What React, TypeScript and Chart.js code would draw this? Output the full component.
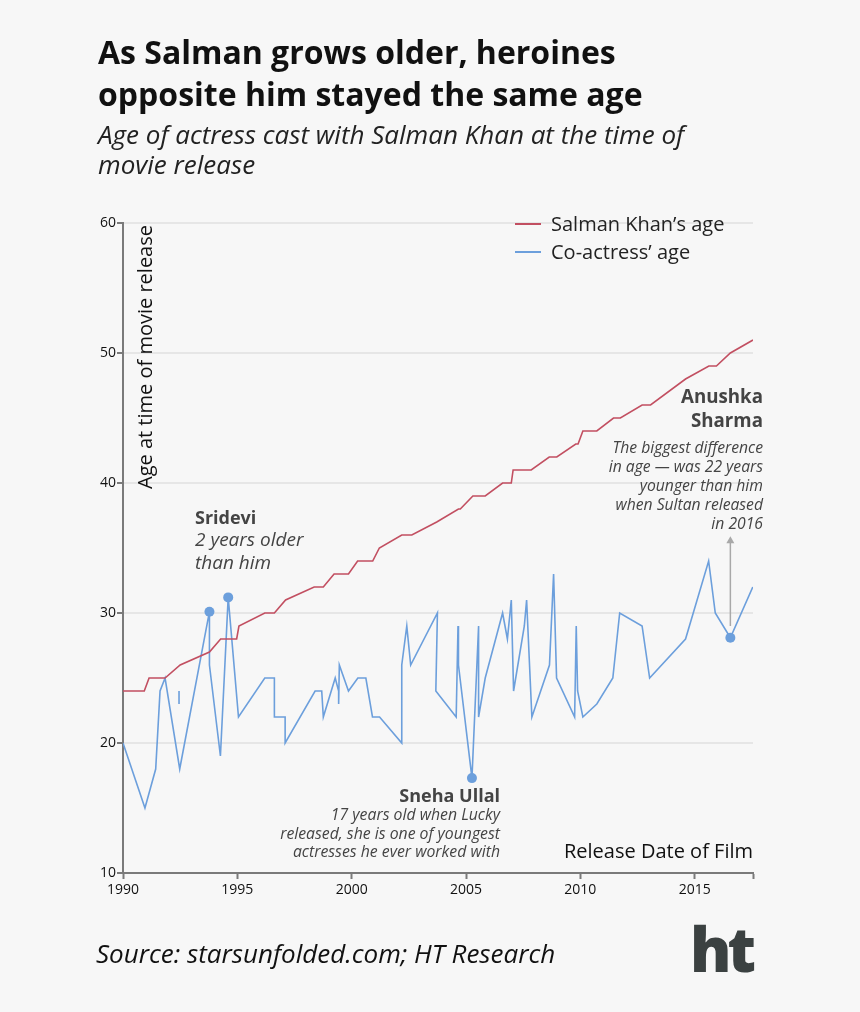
import React, { useEffect, useRef } from "react";
import { Chart, registerables } from "chart.js";

Chart.register(...registerables);

// Release dates (decimal years) and ages
const salmanDates = [1990, 1990.93, 1991.14, 1991.84, 1992.5, 1993.78, 1994.27, 1994.97, 1995.07, 1996.2, 1996.62, 1997.11, 1998.36, 1998.76, 1999.23, 1999.86, 2000.26, 2000.92, 2001.21, 2002.19, 2002.63, 2003.72, 2004.67, 2004.75, 2005.3, 2005.84, 2006.6, 2006.98, 2007.06, 2007.85, 2008.64, 2008.97, 2009.8, 2009.9, 2010.11, 2010.72, 2011.45, 2011.75, 2012.7, 2013.07, 2014.6, 2015.62, 2015.95, 2016.56, 2017.55];
const salmanAges = [24, 24, 25, 25, 26, 27, 28, 28, 29, 30, 30, 31, 32, 32, 33, 33, 34, 34, 35, 36, 36, 37, 38, 38, 39, 39, 40, 40, 41, 41, 42, 42, 43, 43, 44, 44, 45, 45, 46, 46, 48, 49, 49, 50, 51];

const actressDates = [1990, 1990.96, 1991.43, 1991.62, 1991.84, 1992.48, 1993.78, 1993.78, 1994.26, 1994.6, 1995.05, 1996.2, 1996.62, 1996.62, 1997.09, 1997.09, 1998.4, 1998.69, 1998.76, 1999.28, 1999.43, 1999.43, 1999.46, 1999.86, 2000.27, 2000.62, 2000.91, 2001.22, 2002.19, 2002.19, 2002.41, 2002.58, 2003.75, 2003.68, 2004.57, 2004.65, 2004.67, 2005.26, 2005.55, 2005.55, 2005.84, 2006.6, 2006.81, 2006.98, 2007.08, 2007.55, 2007.65, 2007.88, 2008.65, 2008.83, 2008.96, 2009.75, 2009.82, 2009.88, 2010.11, 2010.72, 2011.42, 2011.72, 2012.7, 2013.03, 2014.6, 2015.61, 2015.9, 2016.56, 2017.54];
const actressAges = [20, 15, 18, 24, 25, 18, 30.1, 26, 19, 31.2, 22, 25, 25, 22, 22, 20, 24, 24, 22, 25, 24, 23, 26, 24, 25, 25, 22, 22, 20, 26, 29, 26, 30, 24, 22, 29, 26, 17.3, 29, 22, 25, 30, 28, 31, 24, 29, 31, 22, 26, 33, 25, 22, 29, 24, 22, 23, 25, 30, 29, 25, 28, 34, 30, 28.1, 32];
const highlightDates = [1993.78, 1994.6, 2005.26, 2016.56];

const spurDates = [1992.45, 1992.45];
const spurAges = [24, 23];

const xTicks = [1990, 1995, 2000, 2005, 2010, 2015];
const yTicks = [10, 20, 30, 40, 50, 60];

const RED = "#c24f61";
const BLUE = "#6c9fdc";
const FONT = "'Open Sans', 'DejaVu Sans', sans-serif";

const arrowPlugin = {
  id: "arrowAnno",
  afterDatasetsDraw(chart: any) {
    const { ctx, scales } = chart;
    const x = scales.x.getPixelForValue(2016.56);
    const y0 = scales.y.getPixelForValue(29.0);
    const y1 = scales.y.getPixelForValue(35.9);
    ctx.save();
    ctx.strokeStyle = "#a9a9a9";
    ctx.fillStyle = "#a9a9a9";
    ctx.lineWidth = 1.5;
    ctx.beginPath();
    ctx.moveTo(x, y0);
    ctx.lineTo(x, y1 + 5);
    ctx.stroke();
    ctx.beginPath();
    ctx.moveTo(x, y1);
    ctx.lineTo(x - 4, y1 + 7);
    ctx.lineTo(x + 4, y1 + 7);
    ctx.closePath();
    ctx.fill();
    ctx.restore();
  },
};

export default function App() {
  const ref = useRef<HTMLCanvasElement | null>(null);

  useEffect(() => {
    document.body.style.margin = "0";
    document.body.style.background = "#f7f7f7";
    const canvas = ref.current;
    if (!canvas) return;
    const salman = salmanDates.map((d, i) => ({ x: d, y: salmanAges[i] }));
    const actress = actressDates.map((d, i) => ({ x: d, y: actressAges[i] }));
    const spur = spurDates.map((d, i) => ({ x: d, y: spurAges[i] }));
    const radii = actressDates.map((d, i) =>
      highlightDates.includes(d) && (i === 0 || actressAges[i] !== 26) ? 5 : 0
    );
    const chart = new Chart(canvas, {
      type: "line",
      data: {
        datasets: [
          {
            label: "Salman Khan’s age",
            data: salman,
            borderColor: RED,
            borderWidth: 1.6,
            pointRadius: 0,
            tension: 0,
          },
          {
            label: "Co-actress’ age",
            data: actress,
            borderColor: BLUE,
            backgroundColor: BLUE,
            borderWidth: 1.6,
            pointRadius: radii,
            pointBorderWidth: 0,
            pointBackgroundColor: BLUE,
            tension: 0,
          },
          {
            label: "spur",
            data: spur,
            borderColor: BLUE,
            borderWidth: 1.6,
            pointRadius: 0,
          },
        ],
      },
      options: {
        responsive: false,
        animation: false,
        events: [],
        layout: { padding: { left: 83, right: 107, top: 223, bottom: 99 } },
        plugins: { legend: { display: false }, tooltip: { enabled: false } },
        scales: {
          x: {
            type: "linear",
            min: 1990,
            max: 2017.55,
            afterFit: (s: any) => {
              s.height = 40;
            },
            afterBuildTicks: (s: any) => {
              s.ticks = [...xTicks.map((v) => ({ value: v })), { value: 2017.55 }];
            },
            ticks: {
              autoSkip: false,
              maxRotation: 0,
              padding: 3,
              color: "#111",
              font: { family: FONT, size: 14 },
              callback: (v: any) => (xTicks.includes(Number(v)) ? String(v) : ""),
            },
            grid: {
              drawOnChartArea: false,
              drawTicks: true,
              tickLength: 6,
              tickColor: "#7a7a7a",
              tickWidth: 2,
            },
            border: { color: "#7a7a7a", width: 2 },
          },
          y: {
            min: 10,
            max: 60,
            afterFit: (s: any) => {
              s.width = 40;
            },
            afterBuildTicks: (s: any) => {
              s.ticks = yTicks.map((v) => ({ value: v }));
            },
            ticks: {
              padding: 1,
              color: "#111",
              font: { family: FONT, size: 14 },
            },
            grid: {
              color: "#e6e6e6",
              lineWidth: 2,
              drawTicks: true,
              tickLength: 6,
              tickColor: "#7a7a7a",
              tickWidth: 2,
            },
            border: { color: "#7a7a7a", width: 2 },
          },
        },
      },
      plugins: [arrowPlugin],
    } as any);
    return () => chart.destroy();
  }, []);

  const abs = (s: React.CSSProperties): React.CSSProperties => ({
    position: "absolute",
    margin: 0,
    fontFamily: FONT,
    whiteSpace: "nowrap",
    ...s,
  });

  return (
    <div
      style={{
        position: "absolute",
        left: 0,
        top: 0,
        width: 860,
        height: 1012,
        background: "#f7f7f7",
        overflow: "hidden",
      }}
    >
      <canvas ref={ref} width={860} height={1012} style={{ position: "absolute", left: 0, top: 0 }} />

      <div style={abs({ left: 98, top: 31, fontSize: 32, fontWeight: 700, lineHeight: "42px", color: "#111" })}>
        As Salman grows older, heroines
        <br />
        opposite him stayed the same age
      </div>
      <div style={abs({ left: 98, top: 119, fontSize: 26, fontStyle: "italic", lineHeight: "30px", color: "#222" })}>
        Age of actress cast with Salman Khan at the time of
        <br />
        movie release
      </div>

      {/* legend */}
      <div style={abs({ left: 515, top: 223, width: 26, height: 2, background: RED })} />
      <div style={abs({ left: 551, top: 211, fontSize: 20, lineHeight: "26px", color: "#222" })}>Salman Khan’s age</div>
      <div style={abs({ left: 515, top: 251, width: 26, height: 2, background: BLUE })} />
      <div style={abs({ left: 551, top: 239, fontSize: 20, lineHeight: "26px", color: "#222" })}>Co-actress’ age</div>

      {/* axis titles */}
      <div
        style={abs({
          left: 145 - 160,
          top: 357 - 13,
          width: 320,
          height: 26,
          lineHeight: "26px",
          textAlign: "center",
          fontSize: 20,
          color: "#111",
          transform: "rotate(-90deg)",
        })}
      >
        Age at time of movie release
      </div>
      <div style={abs({ right: 860 - 753, top: 838, fontSize: 20, lineHeight: "26px", color: "#111", textAlign: "right" })}>
        Release Date of Film
      </div>

      {/* Sridevi */}
      <div style={abs({ left: 195, top: 504, fontSize: 18, fontWeight: 700, lineHeight: "26px", color: "#444" })}>Sridevi</div>
      <div style={abs({ left: 195, top: 528, fontSize: 19, fontStyle: "italic", lineHeight: "23px", color: "#444" })}>
        2 years older
        <br />
        than him
      </div>

      {/* Anushka */}
      <div style={abs({ right: 860 - 763, top: 384, fontSize: 18.7, fontWeight: 700, lineHeight: "24px", color: "#444", textAlign: "right" })}>
        Anushka
        <br />
        Sharma
      </div>
      <div style={abs({ right: 860 - 763, top: 438, fontSize: 15.7, fontStyle: "italic", lineHeight: "19px", color: "#444", textAlign: "right" })}>
        The biggest difference
        <br />
        in age — was 22 years
        <br />
        younger than him
        <br />
        when Sultan released
        <br />
        in 2016
      </div>

      {/* Sneha Ullal */}
      <div style={abs({ right: 860 - 500, top: 783, fontSize: 18, fontWeight: 700, lineHeight: "24px", color: "#444", textAlign: "right" })}>
        Sneha Ullal
      </div>
      <div style={abs({ right: 860 - 500, top: 805, fontSize: 15.8, fontStyle: "italic", lineHeight: "18.5px", color: "#444", textAlign: "right" })}>
        17 years old when Lucky
        <br />
        released, she is one of youngest
        <br />
        actresses he ever worked with
      </div>

      {/* source and logo */}
      <div style={abs({ left: 96, top: 936, fontSize: 26, fontStyle: "italic", lineHeight: "34px", color: "#111" })}>
        Source: starsunfolded.com; HT Research
      </div>
      <div
        style={abs({
          right: 860 - 752,
          top: 908,
          fontSize: 62,
          fontWeight: 800,
          lineHeight: "80px",
          letterSpacing: "-4px",
          color: "#3b4141",
        })}
      >
        ht
      </div>
    </div>
  );
}
